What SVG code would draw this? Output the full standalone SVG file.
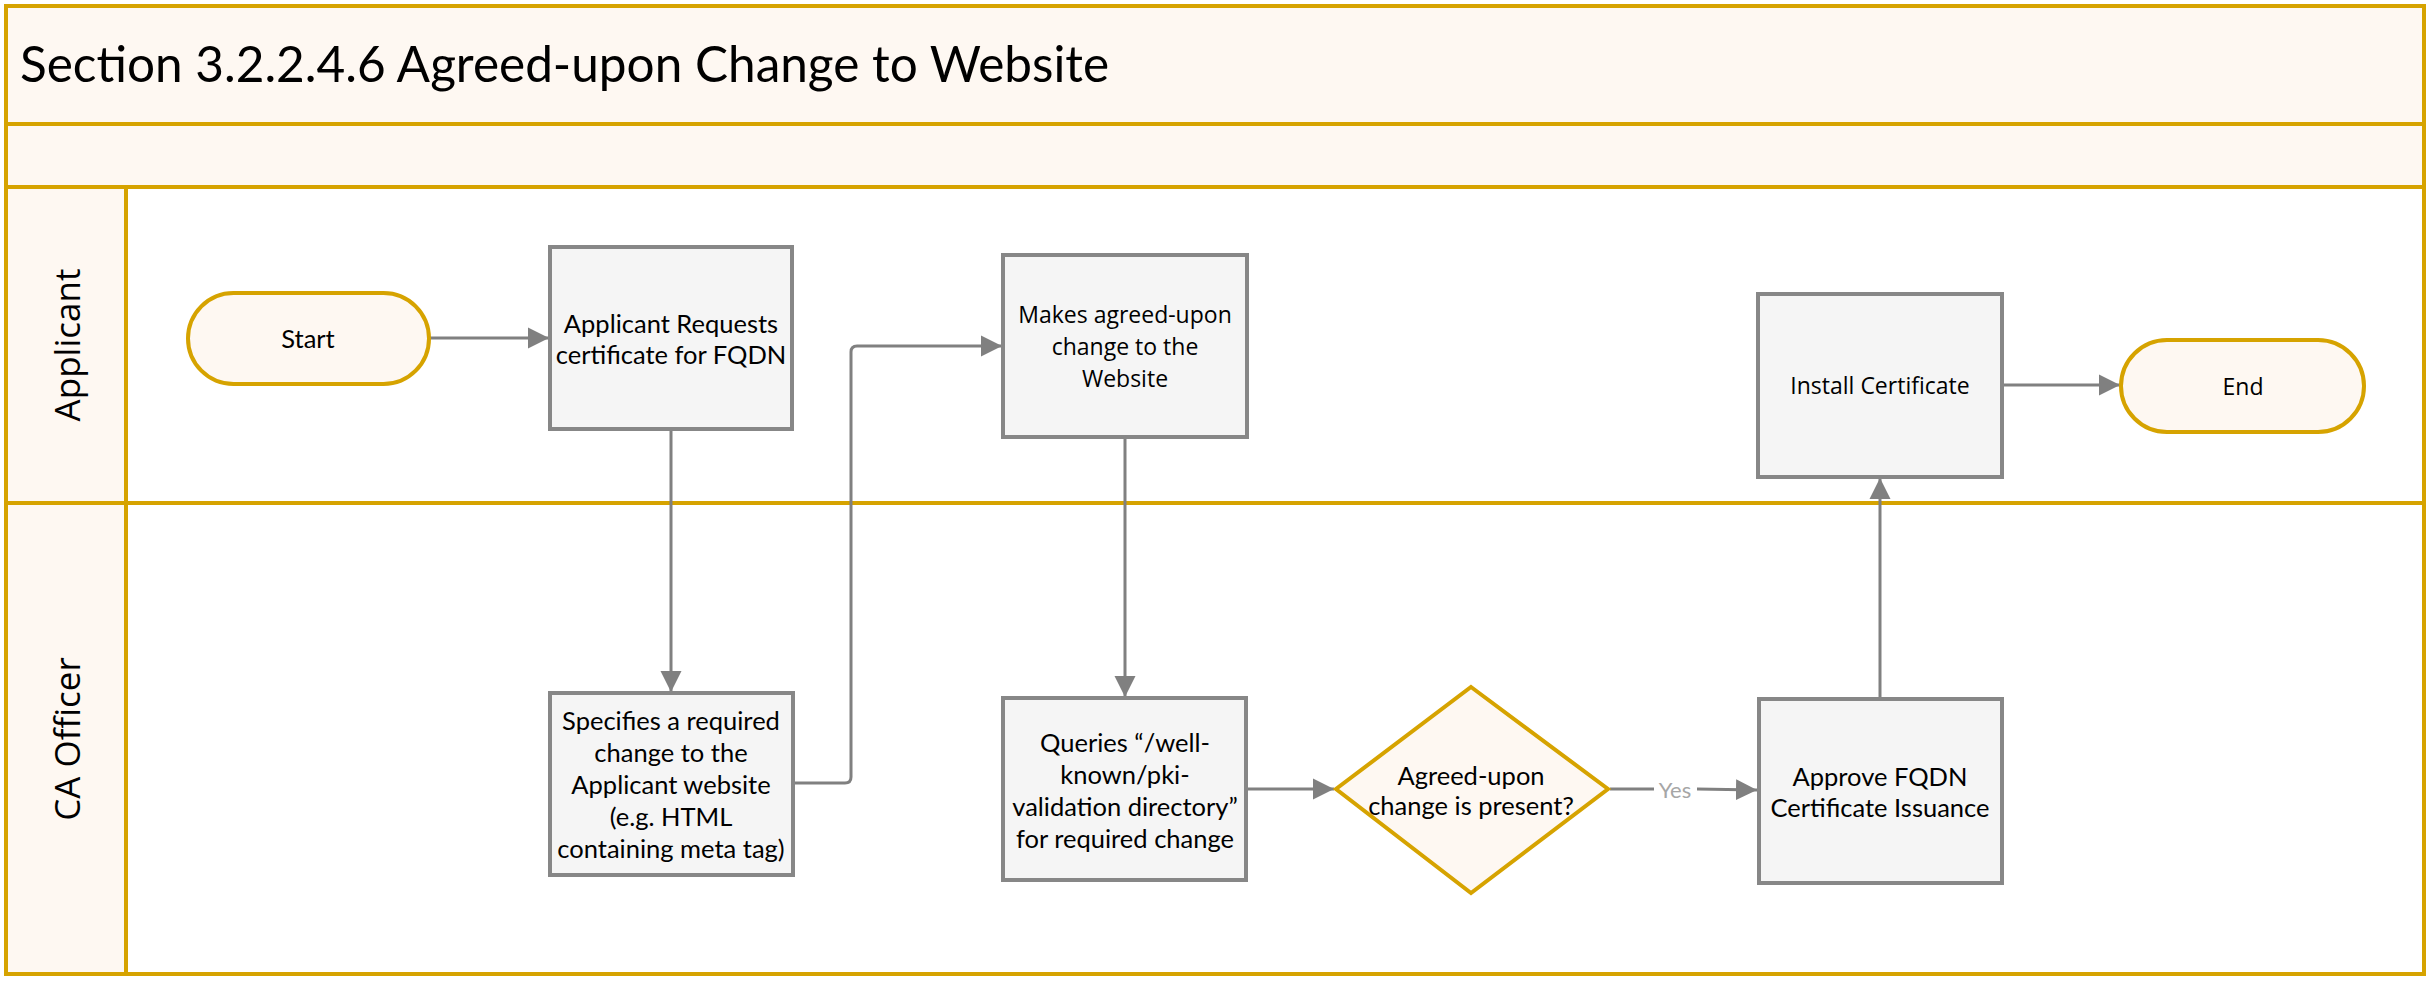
<svg xmlns="http://www.w3.org/2000/svg" width="2429" height="981" viewBox="0 0 2429 981">
<defs>
<style>
.band{fill:#FEF8F2;stroke:none}
.frame{fill:none;stroke:#D6A300;stroke-width:4}
.box{fill:#F5F5F5;stroke:#878787;stroke-width:4}
.term{fill:#FEF8F2;stroke:#D6A300;stroke-width:4}
.t{font-family:Lato,"Liberation Sans",sans-serif;font-size:25.5px;fill:#000;text-anchor:middle;dominant-baseline:central}
.o{font-family:"Open Sans","DejaVu Sans",sans-serif;font-size:23px;fill:#000;text-anchor:middle;dominant-baseline:central}
.lane{font-family:"Open Sans","DejaVu Sans",sans-serif;font-size:35px;fill:#000;text-anchor:middle;dominant-baseline:central}
.title{font-family:Lato,"Liberation Sans",sans-serif;font-size:49.5px;fill:#000}
.conn{fill:none;stroke:#808080;stroke-width:3}
.yes{font-family:Lato,"Liberation Sans",sans-serif;font-size:22px;fill:#A6A6A6;text-anchor:middle;dominant-baseline:central}
</style>
<marker id="arr" viewBox="0 0 10 10" refX="10" refY="5" markerWidth="7" markerHeight="7.5" markerUnits="strokeWidth" orient="auto">
<path d="M0,0 L10,5 L0,10 z" fill="#808080"/>
</marker>
</defs>
<rect x="0" y="0" width="2429" height="981" fill="#fff"/>
<g id="pool">
<rect class="band" x="6" y="6" width="2418" height="181"/>
<rect class="band" x="6" y="187" width="120" height="787"/>
<rect class="frame" x="6" y="6" width="2418" height="968"/>
<line class="frame" x1="6" y1="124" x2="2424" y2="124"/>
<line class="frame" x1="6" y1="187" x2="2424" y2="187"/>
<line class="frame" x1="6" y1="503" x2="2424" y2="503"/>
<line class="frame" x1="126" y1="187" x2="126" y2="974"/>
<text class="title" x="20" y="82">Section 3.2.2.4.6 Agreed-upon Change to Website</text>
</g>
<g id="lane-applicant"><text class="lane" transform="translate(66,345) rotate(-90)">Applicant</text></g>
<g id="lane-ca"><text class="lane" transform="translate(66,739) rotate(-90)">CA Officer</text></g>
<g id="connectors">
<line class="conn" x1="430" y1="338" x2="549" y2="338" marker-end="url(#arr)"/>
<line class="conn" x1="671" y1="431" x2="671" y2="692" marker-end="url(#arr)"/>
<path class="conn" d="M795,783 H845 Q851,783 851,777 V352 Q851,346 857,346 H1002" marker-end="url(#arr)"/>
<line class="conn" x1="1125" y1="439" x2="1125" y2="697" marker-end="url(#arr)"/>
<line class="conn" x1="1248" y1="789" x2="1334" y2="789" marker-end="url(#arr)"/>
<line class="conn" x1="1610" y1="789" x2="1654" y2="789"/>
<line class="conn" x1="1697" y1="789" x2="1757" y2="790" marker-end="url(#arr)"/>
<text class="yes" x="1675" y="789">Yes</text>
<line class="conn" x1="1880" y1="697" x2="1880" y2="478" marker-end="url(#arr)"/>
<line class="conn" x1="2004" y1="385" x2="2120" y2="385" marker-end="url(#arr)"/>
</g>
<g id="start">
<rect class="term" x="188" y="293" width="241" height="91" rx="45.5"/>
<text class="t" x="308" y="338">Start</text>
</g>
<g id="request">
<rect class="box" x="550" y="247" width="242" height="182"/>
<text class="t" x="671" y="323">Applicant Requests</text>
<text class="t" x="671" y="354">certificate for FQDN</text>
</g>
<g id="specifies">
<rect class="box" x="550" y="693" width="243" height="182"/>
<text class="t" x="671" y="720">Specifies a required</text>
<text class="t" x="671" y="752">change to the</text>
<text class="t" x="671" y="784">Applicant website</text>
<text class="t" x="671" y="816">(e.g. HTML</text>
<text class="t" x="671" y="848">containing meta tag)</text>
</g>
<g id="makes">
<rect class="box" x="1003" y="255" width="244" height="182"/>
<text class="o" x="1125" y="314">Makes agreed-upon</text>
<text class="o" x="1125" y="346">change to the</text>
<text class="o" x="1125" y="378">Website</text>
</g>
<g id="queries">
<rect class="box" x="1003" y="698" width="243" height="182"/>
<text class="t" x="1125" y="742">Queries “/well-</text>
<text class="t" x="1125" y="774">known/pki-</text>
<text class="t" x="1125" y="806">validation directory”</text>
<text class="t" x="1125" y="838">for required change</text>
</g>
<g id="decision">
<polygon class="term" points="1471,687 1608,789 1471,893 1336,789"/>
<text class="t" x="1471" y="775">Agreed-upon</text>
<text class="t" x="1471" y="805">change is present?</text>
</g>
<g id="approve">
<rect class="box" x="1759" y="699" width="243" height="184"/>
<text class="t" x="1880" y="776">Approve FQDN</text>
<text class="t" x="1880" y="807">Certificate Issuance</text>
</g>
<g id="install">
<rect class="box" x="1758" y="294" width="244" height="183"/>
<text class="o" x="1880" y="385">Install Certificate</text>
</g>
<g id="end">
<rect class="term" x="2121" y="340" width="243" height="92" rx="46"/>
<text class="o" x="2243" y="386">End</text>
</g>
</svg>
